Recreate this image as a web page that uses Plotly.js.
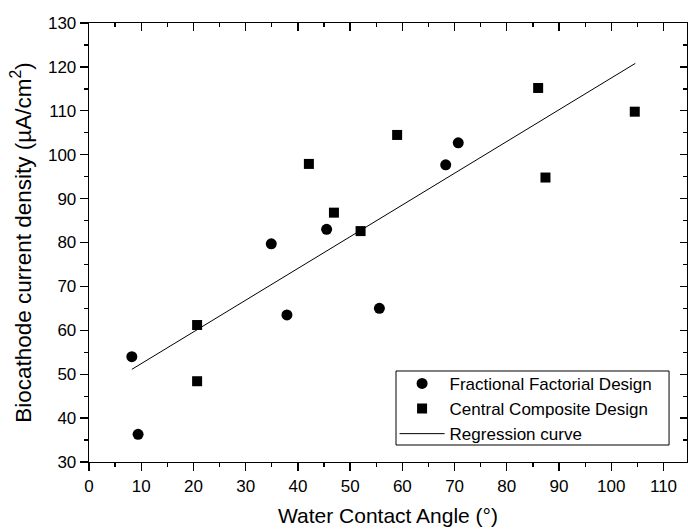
<!DOCTYPE html>
<html>
<head>
<meta charset="utf-8">
<script src="https://cdn.plot.ly/plotly-3.0.1.min.js"></script>
<style>html,body{margin:0;padding:0;background:#fff}#chart{width:688px;height:532px}</style>
</head>
<body>
<div id="chart"></div>
<script>
// Fractional Factorial Design points
var ffdX = [8.2, 9.4, 34.9, 37.9, 45.5, 55.6, 68.3, 70.7];
var ffdY = [54.0, 36.3, 79.7, 63.5, 83.0, 65.0, 97.7, 102.7];
// Central Composite Design points
var ccdX = [20.7, 20.7, 42.1, 46.9, 52.0, 59.0, 86.0, 87.4, 104.5];
var ccdY = [61.2, 48.4, 97.9, 86.8, 82.6, 104.5, 115.2, 94.8, 109.8];
// Regression curve end points
var regX = [8.2, 104.6];
var regY = [51.1, 120.8];
// Axis ticks
var xTicks = [0, 10, 20, 30, 40, 50, 60, 70, 80, 90, 100, 110];
var yTicks = [30, 40, 50, 60, 70, 80, 90, 100, 110, 120, 130];

var FONT = "Liberation Sans, Arial, Helvetica, sans-serif";
var xRange = [0, 114.5];
var yRange = [30, 130];

var traces = [
  {x: ffdX, y: ffdY, mode: 'markers', name: 'Fractional Factorial Design',
   marker: {symbol: 'circle', size: 11, color: '#000'}, hoverinfo: 'x+y'},
  {x: ccdX, y: ccdY, mode: 'markers', name: 'Central Composite Design',
   marker: {symbol: 'square', size: 10, color: '#000'}, hoverinfo: 'x+y'},
  {x: regX, y: regY, mode: 'lines', name: 'Regression curve',
   line: {color: '#000', width: 1}, hoverinfo: 'skip'},
  // invisible helpers so the mirrored top / right axes are drawn
  {x: regX, y: regY, xaxis: 'x2', yaxis: 'y', mode: 'markers', showlegend: false,
   marker: {opacity: 0}, hoverinfo: 'skip'},
  {x: regX, y: regY, xaxis: 'x', yaxis: 'y2', mode: 'markers', showlegend: false,
   marker: {opacity: 0}, hoverinfo: 'skip'}
];

var axCommon = {showgrid: false, zeroline: false, showline: true, linecolor: '#000', linewidth: 1.3,
  tickcolor: '#000', tickwidth: 1.3};

var layout = {
  width: 688, height: 532,
  margin: {l: 89, r: 1, t: 23, b: 70, pad: 0},
  paper_bgcolor: '#fff', plot_bgcolor: '#fff',
  font: {family: FONT, color: '#000', size: 17},
  showlegend: true,
  legend: {x: 0.511, y: 0.023, xanchor: 'left', yanchor: 'bottom',
    borderwidth: 0, bgcolor: 'rgba(0,0,0,0)',
    font: {family: FONT, size: 17, color: '#000'}, itemwidth: 45, tracegroupgap: 0},
  shapes: [
    {type: 'rect', xref: 'paper', yref: 'paper', x0: 0.5134, x1: 0.970, y0: 0.0387, y1: 0.2073,
     line: {color: '#000', width: 1}, fillcolor: 'rgba(0,0,0,0)', layer: 'above'}
  ],
  xaxis: Object.assign({}, axCommon, {
    range: xRange, tickmode: 'array', tickvals: xTicks, ticktext: xTicks.map(String),
    ticks: 'outside', ticklen: 8,
    minor: {dtick: 5, tick0: 0, ticks: 'outside', ticklen: 4, tickcolor: '#000', tickwidth: 1.3, showgrid: false},
    tickfont: {family: FONT, size: 17},
    title: {text: 'Water Contact Angle (°)', font: {family: FONT, size: 21}, standoff: 13}
  }),
  yaxis: Object.assign({}, axCommon, {
    range: yRange, tickmode: 'array', tickvals: yTicks, ticktext: yTicks.map(String),
    ticks: 'outside', ticklen: 8,
    minor: {dtick: 5, tick0: 0, ticks: 'outside', ticklen: 4, tickcolor: '#000', tickwidth: 1.3, showgrid: false},
    tickfont: {family: FONT, size: 17},
    title: {text: 'Biocathode current density (µA/cm<sup>2</sup>)', font: {family: FONT, size: 22.5}, standoff: 10}
  }),
  xaxis2: Object.assign({}, axCommon, {
    overlaying: 'x', side: 'top', anchor: 'y', range: xRange, matches: 'x',
    tickmode: 'array', tickvals: xTicks, showticklabels: false,
    ticks: 'inside', ticklen: 8,
    minor: {dtick: 5, tick0: 0, ticks: 'inside', ticklen: 4, tickcolor: '#000', tickwidth: 1.3, showgrid: false}
  }),
  yaxis2: Object.assign({}, axCommon, {
    overlaying: 'y', side: 'right', anchor: 'x', range: yRange, matches: 'y',
    tickmode: 'array', tickvals: yTicks, showticklabels: false,
    ticks: 'inside', ticklen: 7,
    minor: {dtick: 5, tick0: 0, ticks: 'inside', ticklen: 4, tickcolor: '#000', tickwidth: 1.3, showgrid: false}
  })
};

Plotly.newPlot('chart', traces, layout, {displayModeBar: false, staticPlot: true});
</script>
</body>
</html>
